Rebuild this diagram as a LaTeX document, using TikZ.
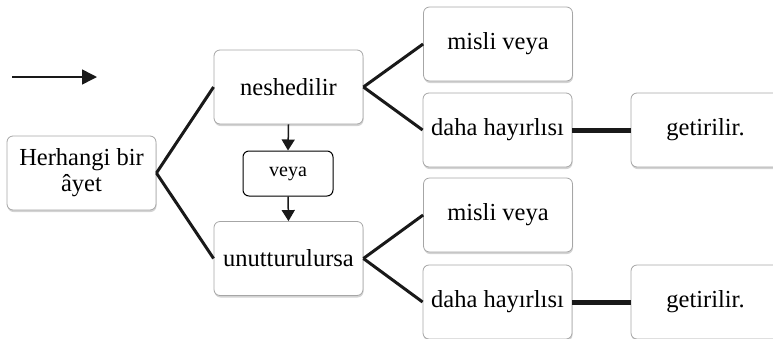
\documentclass[tikz,border=0pt]{standalone}
\usepackage{fontspec}
\setmainfont{Liberation Serif}
\usetikzlibrary{shadows,arrows.meta}
\tikzset{
    kutu/.style={draw=gray!70, line width=0.8pt, rounded corners=6pt, fill=white, minimum width=149pt, minimum height=74pt, inner sep=2pt, align=center, font=\fontsize{24.5}{26}\selectfont, drop shadow={shadow xshift=0.5pt, shadow yshift=-2pt, opacity=0.35}},
    kucuk/.style={draw=black, line width=1pt, rounded corners=6pt, fill=white, minimum width=90pt, minimum height=45pt, font=\fontsize{20}{22}\selectfont},
    bag/.style={line width=3pt, black!90},
    ok/.style={-{Triangle[length=11pt,width=13pt]}, line width=1.5pt, black!90}
}

\begin{document}
\begin{tikzpicture}[x=1pt,y=1pt]
    \useasboundingbox (0,0) rectangle (773,-338);
    \coordinate (okbas) at (12,-77);
    \coordinate (okson) at (97,-77);
    \draw[ok, -{Triangle[length=15pt,width=15pt]}] (okbas) -- (okson);
    \node[kutu] (ayet) at (81.5,-173) {Herhangi bir\\âyet};
    \node[kutu] (nesh) at (288.5,-87) {neshedilir};
    \node[kucuk] (veya) at (288,-173.5) {veya};
    \node[kutu] (unut) at (288.5,-258.5) {unutturulursa};
    \node[kutu] (misli1) at (498,-44) {misli veya};
    \node[kutu] (daha1) at (497.5,-130) {daha hayırlısı};
    \node[kutu] (getir1) at (705.5,-130) {getirilir.};
    \node[kutu] (misli2) at (498,-215) {misli veya};
    \node[kutu] (daha2) at (497.5,-302) {daha hayırlısı};
    \node[kutu] (getir2) at (705.5,-302) {getirilir.};
    \draw[bag] (ayet.east) -- (nesh.west);
    \draw[bag] (ayet.east) -- (unut.west);
    \draw[bag] (nesh.east) -- (misli1.west);
    \draw[bag] (nesh.east) -- (daha1.west);
    \draw[bag] (unut.east) -- (misli2.west);
    \draw[bag] (unut.east) -- (daha2.west);
    \draw[bag, line width=5pt] (daha1.east) -- (getir1.west);
    \draw[bag, line width=5pt] (daha2.east) -- (getir2.west);
    \draw[ok] (nesh.south) -- (veya.north);
    \draw[ok] (veya.south) -- (unut.north);
\end{tikzpicture}
\end{document}
